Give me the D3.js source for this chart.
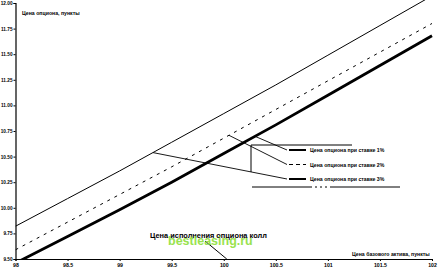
<!DOCTYPE html>
<html>
<head>
<meta charset="utf-8">
<script src="https://cdn.jsdelivr.net/npm/d3@7"></script>
<style>
  body { margin: 0; background: #fff; }
  svg { display: block; font-family: "Liberation Sans", Arial, sans-serif; }
</style>
</head>
<body>
<script>
// data
const strikes = [98, 98.5, 99, 99.5, 100, 100.5, 101, 101.5, 102];
const rate1 = [9.46, 9.72, 9.98, 10.25, 10.53, 10.81, 11.10, 11.39, 11.68];
const rate2 = [9.59, 9.86, 10.13, 10.40, 10.68, 10.96, 11.24, 11.52, 11.80];
const rate3 = [9.82, 10.09, 10.36, 10.64, 10.92, 11.20, 11.49, 11.78, 12.07];
const yTicks = [9.5, 9.75, 10, 10.25, 10.5, 10.75, 11, 11.25, 11.5, 11.75, 12];
const legendNames = ["Цена опциона при ставке 1%", "Цена опциона при ставке 2%", "Цена опциона при ставке 3%"];
// where the leader lines touch each curve (underlying price)
const leaderAt = [100.3, 100.05, 99.32];
const strikePrice = 100;

const width = 439, height = 269;

const svg = d3.select("body").append("svg")
    .attr("width", width)
    .attr("height", height);

const x = d3.scaleLinear().domain([98, 102]).range([15.5, 432]);
const y = d3.scaleLinear().domain([9.5, 12]).range([259, 3]);

svg.append("defs").append("clipPath").attr("id", "plot")
  .append("rect").attr("x", 15.5).attr("y", -20).attr("width", 430).attr("height", 279);

// axes
svg.append("g")
    .attr("transform", "translate(15.5,0)")
    .call(d3.axisLeft(y).tickValues(yTicks).tickFormat(d3.format(".2f")).tickSize(2).tickPadding(1))
    .call(g => g.selectAll("text").attr("font-size", 4.7).attr("font-weight", "bold").attr("font-family", "Liberation Sans, Arial"))
    .call(g => g.select(".domain").attr("stroke-width", 1.2));

svg.append("g")
    .attr("transform", "translate(0,259)")
    .call(d3.axisBottom(x).tickValues(strikes).tickFormat(d => d).tickSize(2).tickPadding(2))
    .call(g => g.selectAll("text").attr("font-size", 5.2).attr("font-weight", "bold").attr("font-family", "Liberation Sans, Arial"))
    .call(g => g.select(".domain").attr("stroke-width", 1));

// series
const series = [
  {vals: rate1, w: 2.8, dash: null},
  {vals: rate2, w: 1, dash: "3,5"},
  {vals: rate3, w: 1, dash: null}
];

const line = d3.line().x((d, i) => x(strikes[i])).y(d => y(d));

svg.append("g").attr("clip-path", "url(#plot)")
  .selectAll("path")
  .data(series)
  .enter()
  .append("path")
    .attr("d", d => line(d.vals))
    .attr("fill", "none")
    .attr("stroke", "#000")
    .attr("stroke-width", d => d.w)
    .attr("stroke-dasharray", d => d.dash);

// legend
const lgY = [150, 164.5, 179];
const lg = svg.append("g");
lg.selectAll("line.sample")
  .data(series)
  .enter()
  .append("line")
    .attr("class", "sample")
    .attr("x1", 289).attr("x2", 306)
    .attr("y1", (d, i) => lgY[i]).attr("y2", (d, i) => lgY[i])
    .attr("stroke", "#000")
    .attr("stroke-width", (d, i) => i === 1 ? 1 : 2)
    .attr("stroke-dasharray", d => d.dash ? "4,3" : null);
lg.selectAll("text")
  .data(legendNames)
  .enter()
  .append("text")
    .attr("x", 310)
    .attr("y", (d, i) => lgY[i] + 2)
    .attr("font-size", 5.2)
    .attr("font-weight", "bold")
    .text(d => d);

// legend frame (partly drawn, like the scan)
lg.append("path")
    .attr("d", "M251,172V145H352")
    .attr("fill", "none").attr("stroke", "#000").attr("stroke-width", 1);
lg.append("path")
    .attr("d", "M252,187H400")
    .attr("fill", "none").attr("stroke", "#000").attr("stroke-width", 1)
    .attr("stroke-dasharray", "60,3,2,3,2,3,2,3,70");

// leader lines from curves to legend entries
svg.append("g").selectAll("line")
  .data(series)
  .enter()
  .append("line")
    .attr("x1", (d, i) => x(leaderAt[i]))
    .attr("y1", (d, i) => {
      const k = d3.bisectLeft(strikes, leaderAt[i]);
      const t = (leaderAt[i] - strikes[k - 1]) / (strikes[k] - strikes[k - 1]);
      return y(d.vals[k - 1] + t * (d.vals[k] - d.vals[k - 1]));
    })
    .attr("x2", 287)
    .attr("y2", (d, i) => lgY[i])
    .attr("stroke", "#000")
    .attr("stroke-width", 0.9);

// axis titles
svg.append("text")
    .attr("x", 22).attr("y", 15)
    .attr("font-size", 5.2).attr("font-weight", "bold")
    .text("Цена опциона, пункты");
svg.append("text")
    .attr("x", 352).attr("y", 256)
    .attr("font-size", 5.2).attr("font-weight", "bold")
    .text("Цена базового актива, пункты");

// strike annotation
svg.append("line")
    .attr("x1", 205).attr("y1", 241)
    .attr("x2", x(strikePrice) + 3).attr("y2", y(9.5))
    .attr("stroke", "#000").attr("stroke-width", 1);
svg.append("text")
    .attr("x", 150).attr("y", 238)
    .attr("font-size", 7.4).attr("font-weight", "bold")
    .text("Цена исполнения опциона колл");

// watermark
svg.append("text")
    .attr("x", 168).attr("y", 245)
    .attr("font-size", 12.5).attr("font-weight", "bold")
    .attr("font-family", "Liberation Sans, Arial, sans-serif")
    .attr("fill", "#8ee03a").attr("opacity", 0.9)
    .text("bestleasing.ru");
</script>
</body>
</html>
